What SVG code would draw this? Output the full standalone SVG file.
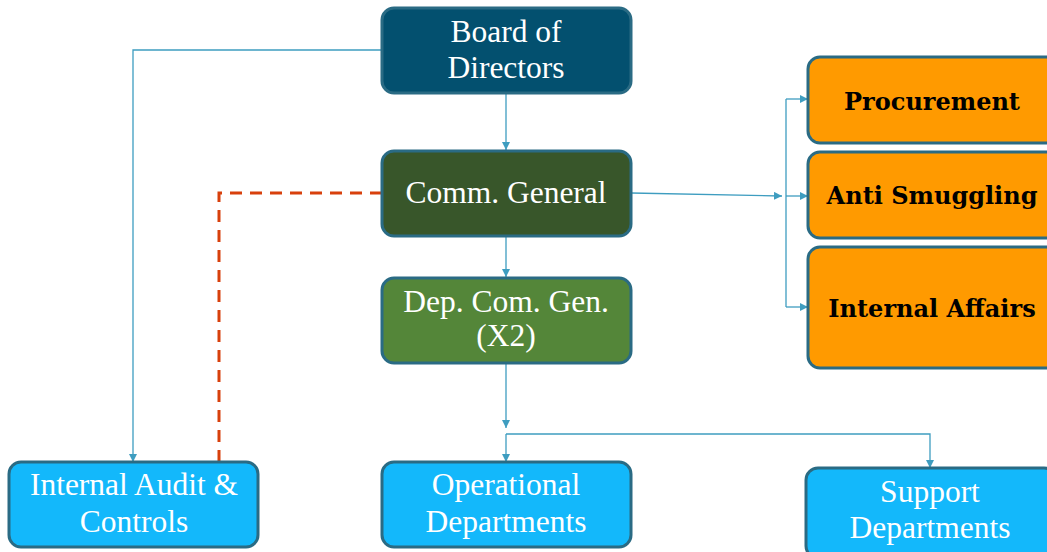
<svg xmlns="http://www.w3.org/2000/svg" width="1047" height="552" viewBox="0 0 1047 552">
  <defs>
    <marker id="arrow" viewBox="0 0 8 8" markerWidth="8" markerHeight="8" refX="8" refY="4" orient="auto" markerUnits="userSpaceOnUse">
      <path d="M0,0 L8,4 L0,8 Z" fill="#3E9DC0"/>
    </marker>
    <style>
      .box { stroke: #2A6B84; stroke-width: 3; }
      .board { fill: #03506F; }
      .comm { fill: #38562A; }
      .dep { fill: #548639; }
      .unit { fill: #FF9A00; }
      .dept { fill: #13B8FB; }
      .lbl { font-family: "Liberation Serif", "Times New Roman", serif; font-size: 31.5px; fill: #FFFFFF; text-anchor: middle; }
      .ulbl { font-family: "DejaVu Serif", "Liberation Serif", serif; font-weight: bold; font-size: 24px; fill: #000000; text-anchor: middle; }
      .link { fill: none; stroke: #3E9DC0; stroke-width: 1.3; }
      .dash { fill: none; stroke: #D8400C; stroke-width: 3; stroke-dasharray: 12 8; }
    </style>
  </defs>

  <rect width="1047" height="552" fill="#FFFFFF"/>

  <!-- connectors -->
  <g id="connectors">
    <path class="link" d="M382,50 H133 V462" marker-end="url(#arrow)"/>
    <path class="dash" d="M382,193 H219 V462"/>
    <path class="link" d="M506,93 V150" marker-end="url(#arrow)"/>
    <path class="link" d="M506,237 V277" marker-end="url(#arrow)"/>
    <path class="link" d="M631,193 L782,196" marker-end="url(#arrow)"/>
    <path class="link" d="M786,99 V307"/>
    <path class="link" d="M786,99 H808" marker-end="url(#arrow)"/>
    <path class="link" d="M786,196 H808" marker-end="url(#arrow)"/>
    <path class="link" d="M786,307 H808" marker-end="url(#arrow)"/>
    <path class="link" d="M506,363 V428" marker-end="url(#arrow)"/>
    <path class="link" d="M506,434 V462" marker-end="url(#arrow)"/>
    <path class="link" d="M506,434 H930 V468" marker-end="url(#arrow)"/>
  </g>

  <g id="board">
    <rect class="box board" x="382" y="8" width="249" height="85" rx="12"/>
    <text class="lbl" x="506" y="42">Board of</text>
    <text class="lbl" x="506" y="78">Directors</text>
  </g>

  <g id="comm-general">
    <rect class="box comm" x="382" y="151" width="249" height="85" rx="12"/>
    <text class="lbl" x="506" y="203">Comm. General</text>
  </g>

  <g id="dep-com-gen">
    <rect class="box dep" x="382" y="278" width="249" height="85" rx="12"/>
    <text class="lbl" x="506" y="312">Dep. Com. Gen.</text>
    <text class="lbl" x="506" y="346">(X2)</text>
  </g>

  <g id="procurement">
    <rect class="box unit" x="808" y="57" width="250" height="86" rx="12"/>
    <text class="ulbl" x="932" y="110">Procurement</text>
  </g>

  <g id="anti-smuggling">
    <rect class="box unit" x="808" y="152" width="250" height="86" rx="12"/>
    <text class="ulbl" x="932" y="204">Anti Smuggling</text>
  </g>

  <g id="internal-affairs">
    <rect class="box unit" x="808" y="247" width="250" height="121" rx="12"/>
    <text class="ulbl" x="932" y="317">Internal Affairs</text>
  </g>

  <g id="internal-audit">
    <rect class="box dept" x="9" y="462" width="249" height="85" rx="12"/>
    <text class="lbl" x="134" y="495">Internal Audit &amp;</text>
    <text class="lbl" x="134" y="532">Controls</text>
  </g>

  <g id="operational">
    <rect class="box dept" x="382" y="462" width="249" height="85" rx="12"/>
    <text class="lbl" x="506" y="495">Operational</text>
    <text class="lbl" x="506" y="532">Departments</text>
  </g>

  <g id="support">
    <rect class="box dept" x="806" y="468" width="250" height="90" rx="12"/>
    <text class="lbl" x="930" y="502">Support</text>
    <text class="lbl" x="930" y="538">Departments</text>
  </g>
</svg>
